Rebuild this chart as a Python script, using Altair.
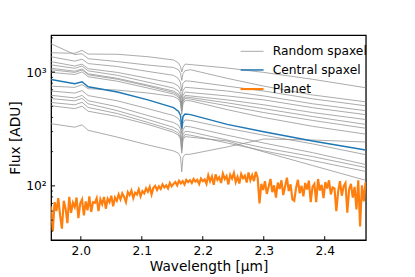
import altair as alt
import pandas as pd
import numpy as np

# ---------------- data ----------------
wl_grid = [1.951, 1.99, 2.002, 2.012, 2.06, 2.11, 2.152, 2.160, 2.1635, 2.1655,
           2.1675, 2.171, 2.18, 2.24, 2.30, 2.38, 2.467]

spaxel_01 = [1479, 1464, 1553, 1441, 1435, 1366, 1279, 1207, 1116, 1002, 1100, 1176, 1165, 1087, 994, 865, 729]
spaxel_02 = [1778, 1427, 1449, 1312, 1237, 1154, 1098, 1051, 977, 846, 969, 1032, 1049, 882, 753, 630, 548]
spaxel_03 = [1366, 1249, 1300, 1188, 1120, 1014, 937, 879, 807, 683, 795, 838, 831, 753, 682, 582, 506]
spaxel_04 = [1237, 1131, 1176, 1072, 994, 882, 799, 755, 697, 589, 687, 735, 729, 682, 617, 527, 458]
spaxel_05 = [1158, 1080, 1131, 1026, 937, 815, 724, 683, 631, 524, 622, 668, 661, 617, 570, 487, 423]
spaxel_06 = [1083, 1018, 1066, 967, 882, 768, 682, 642, 593, 492, 584, 625, 617, 570, 516, 441, 383]
spaxel_07 = [1049, 994, 1045, 948, 865, 753, 662, 623, 575, 468, 566, 605, 597, 537, 477, 407, 347]
spaxel_08 = [994, 953, 1004, 911, 831, 724, 642, 605, 557, 454, 549, 586, 579, 506, 441, 376, 321]
spaxel_09 = [753, 734, 776, 715, 695, 655, 611, 579, 534, 426, 527, 562, 559, 468, 399, 334, 285]
spaxel_10 = [682, 654, 688, 622, 559, 477, 415, 391, 361, 288, 355, 380, 376, 321, 279, 234, 188]
spaxel_11 = [626, 593, 624, 561, 496, 415, 361, 341, 315, 247, 310, 334, 330, 279, 238, 196, 154]
spaxel_12 = [585, 559, 587, 527, 458, 383, 327, 309, 285, 219, 281, 302, 298, 253, 216, 181, 145]
spaxel_13 = [541, 516, 543, 489, 432, 361, 308, 290, 268, 206, 264, 283, 279, 238, 203, 167, 134]
spaxel_14 = [506, 478, 501, 453, 407, 347, 296, 279, 258, 194, 254, 271, 268, 248, 199, 151, 112]
spaxel_15 = [352, 328, 344, 308, 268, 229, 203, 194, 180, 133, 178, 189, 190, 220, 258, 253, 243]

central_spaxel = [860, 789, 823, 744, 668, 570, 487, 454, 416, 318, 408, 429, 423, 347, 299, 248, 207]

planet_flux = [
    66, 40, 72, 60, 78, 55, 42, 74, 63, 47, 80, 58, 71, 65, 79, 52, 70, 76, 55, 73, 61, 81, 59, 72,
    71, 78, 60, 76, 69, 80, 63, 77, 72, 82, 66, 79, 74, 84,
    76, 86, 80, 72, 88, 83, 91, 78, 87, 84, 93, 81, 90,
    86, 95, 89, 98, 84, 96, 100, 92, 99, 94, 103, 97, 101, 95, 106, 99, 104,
    108, 101, 111, 105, 110, 103, 113, 108, 112, 106, 115, 109, 113, 104, 116, 110,
    114, 104, 124, 110, 121, 102, 126, 113, 119, 106, 128, 115, 122, 103, 125, 116, 130, 108, 120, 105,
    127, 117, 123, 107, 131, 112, 124, 110, 133, 118,
    70, 104, 92, 110, 85, 98, 115, 88, 101, 79, 107, 94, 112, 83, 99, 118, 90, 103, 76, 74,
    96, 113, 86, 100, 81, 106, 93, 111, 72, 98, 104, 72, 115, 91, 102, 78, 108, 95, 112, 84,
    97, 95, 60, 89, 110, 82, 99, 106, 58, 93, 104, 79, 98, 62, 112, 44, 101, 73, 108,
]
planet_wl = np.round(np.linspace(1.951, 2.467, len(planet_flux)), 4)

x_ticks = [2.0, 2.1, 2.2, 2.3, 2.4]
y_major = [100, 1000]
y_minor = [40, 50, 60, 70, 80, 90, 200, 300, 400, 500, 600, 700, 800, 900, 2000]

series_names = ["Random spaxel", "Central spaxel", "Planet"]
series_colors = ["#939393", "#1f77b4", "#ff7f0e"]
series_widths = [0.8, 2.2, 1.9]

# ---------------- tables ----------------
gray_lists = [spaxel_01, spaxel_02, spaxel_03, spaxel_04, spaxel_05, spaxel_06, spaxel_07,
              spaxel_08, spaxel_09, spaxel_10, spaxel_11, spaxel_12, spaxel_13, spaxel_14, spaxel_15]
rows = []
for i, vals in enumerate(gray_lists):
    for w, f in zip(wl_grid, vals):
        rows.append({"wl": w, "flux": f, "series": "Random spaxel", "line": i})
df_gray = pd.DataFrame(rows)
df_central = pd.DataFrame({"wl": wl_grid, "flux": central_spaxel, "series": "Central spaxel"})
df_planet = pd.DataFrame({"wl": planet_wl, "flux": planet_flux, "series": "Planet"})

# ---------------- chart ----------------
W, H = 321, 209
FONT = "DejaVu Sans"
xscale = alt.Scale(domain=[1.9513, 2.4674], nice=False, zero=False)
yscale = alt.Scale(type="log", domain=[33.4, 2113], nice=False)

x_axis = alt.Axis(values=x_ticks, format=".1f", ticks=False, domain=False, grid=False,
                  labelFontSize=12.5, labelFont=FONT, labelColor="black", labelPadding=5,
                  title="Wavelength [µm]", titleFontSize=14, titleFont=FONT,
                  titleFontWeight="normal", titleColor="black", titlePadding=3)
y_axis = alt.Axis(values=y_major, labelExpr="datum.value == 100 ? '10²' : '10³'",
                  ticks=False, domain=False, grid=False,
                  labelFontSize=12.5, labelFont=FONT, labelColor="black", labelPadding=5,
                  title="Flux [ADU]", titleFontSize=14, titleFont=FONT,
                  titleFontWeight="normal", titleColor="black",
                  titleX=-36, titleY=H / 2, titleAngle=270, titleAlign="center",
                  titleBaseline="middle")

legend = alt.Legend(title=None, orient="none", legendX=192, legendY=4,
                    symbolType="stroke", symbolSize=550, labelFontSize=12.5,
                    labelFont=FONT, labelColor="black", labelOffset=8, rowPadding=-10)
color_enc = alt.Color("series:N", scale=alt.Scale(domain=series_names, range=series_colors), legend=legend)
width_enc = alt.StrokeWidth("series:N", scale=alt.Scale(domain=series_names, range=series_widths), legend=legend)

x_enc = alt.X("wl:Q", scale=xscale, axis=x_axis)
y_enc = alt.Y("flux:Q", scale=yscale, axis=y_axis)

gray = alt.Chart(df_gray).mark_line(clip=True).encode(
    x=x_enc, y=y_enc, color=color_enc, strokeWidth=width_enc, detail="line:N")
central = alt.Chart(df_central).mark_line(clip=True).encode(
    x=x_enc, y=y_enc, color=color_enc, strokeWidth=width_enc)
planet = alt.Chart(df_planet).mark_line(clip=True).encode(
    x=x_enc, y=y_enc, color=color_enc, strokeWidth=width_enc)

xt = alt.Chart(pd.DataFrame({"wl": x_ticks})).mark_rule(color="black", strokeWidth=1).encode(
    x=x_enc, y=alt.value(H), y2=alt.value(H - 4))
yt_major = alt.Chart(pd.DataFrame({"flux": y_major})).mark_rule(color="black", strokeWidth=1).encode(
    y=y_enc, x=alt.value(0), x2=alt.value(4))
yt_minor = alt.Chart(pd.DataFrame({"flux": y_minor})).mark_rule(color="black", strokeWidth=0.8).encode(
    y=y_enc, x=alt.value(0), x2=alt.value(2))

chart = alt.layer(gray, central, planet, xt, yt_major, yt_minor).properties(
    width=W, height=H,
    autosize=alt.AutoSizeParams(type="none"),
    padding={"left": 44, "top": 25, "right": 42, "bottom": 35},
).configure(font=FONT).configure_view(stroke="black", strokeWidth=1.3)

chart.save("out.html", embed_options={"renderer": "svg", "actions": False})
